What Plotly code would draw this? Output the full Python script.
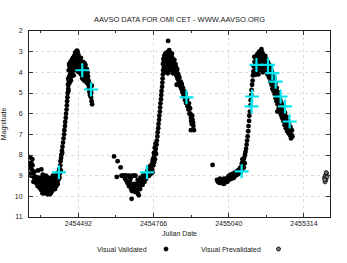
import plotly.graph_objects as go

# ---------------- data ----------------
vis_jd = [
    # cycle 1 - left edge
    2454316, 2454318, 2454315, 2454321, 2454317, 2454322, 2454325, 2454320, 2454327, 2454314, 2454330,
    2454328, 2454332, 2454324,
    # cycle 1 - minimum
    2454336, 2454340, 2454345, 2454348, 2454352, 2454355, 2454358, 2454360, 2454362, 2454365,
    2454366, 2454369, 2454371, 2454372, 2454375, 2454376, 2454378, 2454380, 2454382, 2454384,
    2454386, 2454388, 2454390, 2454392, 2454394, 2454396, 2454398, 2454400, 2454402, 2454404,
    2454406, 2454408, 2454410, 2454412, 2454414, 2454416, 2454418, 2454420, 2454422, 2454424,
    2454426, 2454428, 2454345, 2454357, 2454362, 2454373,
    2454338, 2454343, 2454347, 2454351, 2454354, 2454357, 2454361, 2454364, 2454368, 2454370,
    2454374, 2454377, 2454379, 2454381, 2454383, 2454385, 2454387, 2454389, 2454391, 2454393,
    2454395, 2454397, 2454399, 2454401, 2454403, 2454405, 2454407, 2454409, 2454411, 2454413,
    2454415, 2454417, 2454419, 2454421, 2454423, 2454425,
    # cycle 1 - rise
    2454427, 2454430, 2454429, 2454432, 2454434, 2454433, 2454436, 2454438, 2454440, 2454441,
    2454443, 2454444, 2454446, 2454447, 2454449, 2454450, 2454451, 2454452, 2454453, 2454455,
    2454456, 2454457, 2454459,
    # cycle 1 - maximum
    2454455, 2454457, 2454458, 2454460, 2454462, 2454463, 2454465, 2454466, 2454468, 2454469,
    2454471, 2454472, 2454474, 2454476, 2454477, 2454479, 2454480, 2454482, 2454483, 2454485,
    2454486, 2454487, 2454488, 2454490, 2454491, 2454493, 2454494, 2454496, 2454497, 2454499,
    2454500, 2454502, 2454503, 2454505, 2454507, 2454508, 2454510, 2454512, 2454513, 2454515,
    2454517, 2454519, 2454520, 2454522, 2454524, 2454526, 2454528, 2454530, 2454532, 2454534,
    2454536, 2454538, 2454540, 2454542, 2454539, 2454541, 2454487, 2454484,
    2454458, 2454461, 2454464, 2454467, 2454470, 2454473, 2454475, 2454478, 2454481, 2454484,
    2454486, 2454489, 2454492, 2454495, 2454498, 2454501, 2454504, 2454506, 2454509, 2454511,
    2454514, 2454516, 2454518, 2454521, 2454523, 2454525, 2454527, 2454529, 2454533, 2454537,
    2454454, 2454456, 2454460, 2454480, 2454489,
    # cycle 2 - minimum
    2454622, 2454635, 2454646, 2454632,
    2454649, 2454654, 2454659, 2454664, 2454668, 2454673, 2454678, 2454662, 2454667, 2454671,
    2454676, 2454681, 2454684, 2454688, 2454693, 2454686, 2454698, 2454702, 2454705, 2454708,
    2454712, 2454711, 2454715, 2454718, 2454720, 2454724, 2454727, 2454729, 2454732, 2454735,
    2454738, 2454741, 2454745, 2454748, 2454751, 2454754, 2454700, 2454696, 2454690,
    2454747, 2454750, 2454753, 2454757, 2454760, 2454762, 2454764, 2454767, 2454770, 2454773,
    2454744, 2454739, 2454733, 2454726, 2454717, 2454709, 2454700, 2454694, 2454679, 2454682,
    # cycle 2 - rise
    2454756, 2454759, 2454761, 2454763, 2454765, 2454766, 2454768, 2454769, 2454771, 2454772,
    2454774, 2454775, 2454777, 2454778, 2454780, 2454781, 2454783, 2454784, 2454786, 2454787,
    2454789, 2454790, 2454791, 2454793, 2454794, 2454795, 2454797, 2454798, 2454799, 2454800,
    # cycle 2 - maximum
    2454800, 2454801, 2454802, 2454804, 2454805, 2454806, 2454808, 2454809, 2454810, 2454812,
    2454813, 2454815, 2454816, 2454817, 2454819, 2454820, 2454821, 2454823, 2454824, 2454825,
    2454827, 2454828, 2454829, 2454831, 2454832, 2454834, 2454835, 2454836, 2454838, 2454840,
    2454841, 2454843, 2454845, 2454847, 2454849, 2454851, 2454853, 2454819,
    2454803, 2454807, 2454811, 2454814, 2454818, 2454822, 2454826, 2454830, 2454833, 2454837,
    2454839, 2454842, 2454844, 2454846, 2454848, 2454850, 2454852, 2454854, 2454856, 2454807,
    2454814, 2454818, 2454826, 2454833,
    # cycle 2 - decline
    2454855, 2454858, 2454860, 2454862, 2454865, 2454867, 2454869, 2454871, 2454873, 2454875,
    2454877, 2454879, 2454881, 2454883, 2454885, 2454888, 2454890, 2454893, 2454895, 2454897,
    2454899, 2454902, 2454905, 2454908, 2454911, 2454913, 2454902, 2454850,
    2454857, 2454861, 2454864, 2454868, 2454872, 2454876, 2454880, 2454884, 2454887, 2454892,
    2454896, 2454900, 2454903, 2454907, 2454910,
    # cycle 3 - minimum
    2454981,
    2454997, 2455003, 2455008, 2455011, 2455015, 2455018, 2455021, 2455024, 2455026, 2455029,
    2455032, 2455035, 2455038, 2455041, 2455044, 2455047, 2455050, 2455053, 2455056, 2455059,
    2455062, 2455065, 2455068, 2455071, 2455074, 2455077, 2455080, 2455083, 2455086, 2455089,
    2455000, 2455006, 2455013, 2455019, 2455023, 2455030, 2455036, 2455042, 2455048, 2455054,
    2455060, 2455066, 2455072, 2455078, 2455084, 2455088, 2455090,
    # cycle 3 - rise
    2455091, 2455093, 2455095, 2455096, 2455098, 2455099, 2455101, 2455103, 2455105, 2455107,
    2455109, 2455111, 2455112, 2455114, 2455115, 2455117, 2455119, 2455120, 2455122, 2455123,
    2455125, 2455127, 2455128, 2455130,
    # cycle 3 - maximum
    2455131, 2455132, 2455134, 2455135, 2455137, 2455138, 2455139, 2455141, 2455142, 2455144,
    2455145, 2455147, 2455148, 2455150, 2455151, 2455153, 2455154, 2455156, 2455157, 2455159,
    2455160, 2455161, 2455163, 2455164, 2455166, 2455167, 2455169, 2455170, 2455172, 2455174,
    2455176, 2455178, 2455180,
    2455133, 2455136, 2455140, 2455143, 2455146, 2455149, 2455152, 2455155, 2455158, 2455162,
    2455165, 2455168, 2455171, 2455173, 2455175, 2455177, 2455179, 2455181, 2455184, 2455186,
    2455155, 2455162,
    # cycle 3 - decline
    2455182, 2455185, 2455188, 2455190, 2455193, 2455195, 2455197, 2455200, 2455202, 2455204,
    2455206, 2455208, 2455210, 2455213, 2455215, 2455217, 2455219, 2455221, 2455223, 2455225,
    2455227, 2455229, 2455231, 2455233, 2455236, 2455238, 2455240, 2455242, 2455245, 2455247,
    2455250, 2455252, 2455255, 2455257, 2455260, 2455262, 2455265, 2455268, 2455270, 2455272,
    2455217,
    2455187, 2455192, 2455196, 2455199, 2455203, 2455207, 2455211, 2455214, 2455218, 2455222,
    2455226, 2455230, 2455234, 2455239, 2455243, 2455248, 2455253, 2455258, 2455263, 2455267,
    2455184, 2455198, 2455205,
]
vis_mag = [
    # cycle 1 - left edge
    8.1, 8.5, 8.6, 8.4, 8.9, 8.7, 8.5, 9.0, 8.9, 8.4, 9.1,
    9.3, 8.8, 8.2,
    # cycle 1 - minimum
    9.05, 9.2, 9.1, 9.3, 9.2, 9.45, 9.3, 9.55, 9.15, 9.4,
    9.6, 9.3, 9.7, 9.5, 9.2, 9.45, 9.75, 9.6, 9.35, 9.8,
    9.5, 9.9, 9.65, 9.3, 9.5, 9.75, 9.2, 9.45, 9.6, 9.1,
    9.35, 9.0, 9.25, 9.5, 8.95, 9.15, 8.85, 9.05, 8.7, 8.9,
    8.5, 8.75, 8.75, 8.7, 8.95, 9.0,
    9.35, 9.5, 9.4, 9.6, 9.1, 9.7, 9.85, 9.25, 9.85, 9.1,
    9.6, 9.05, 9.9, 9.15, 9.55, 9.25, 9.7, 9.45, 9.85, 9.1,
    9.35, 9.55, 9.0, 9.3, 9.45, 9.2, 9.65, 9.4, 9.1, 9.3,
    9.05, 9.4, 9.2, 8.95, 9.1, 8.7,
    # cycle 1 - rise
    8.3, 8.0, 8.15, 7.8, 7.6, 7.9, 7.4, 7.2, 7.0, 6.8,
    6.6, 6.4, 6.2, 6.0, 5.8, 5.6, 5.4, 5.2, 5.0, 4.8,
    4.6, 4.4, 4.2,
    # cycle 1 - maximum
    4.3, 3.9, 4.5, 3.7, 4.1, 3.5, 4.4, 3.8, 3.4, 4.0,
    3.6, 3.3, 3.9, 3.5, 3.2, 3.75, 3.4, 3.1, 3.6, 3.3,
    3.0, 3.85, 3.5, 3.2, 3.7, 3.4, 4.0, 3.6, 3.3, 3.85,
    3.55, 4.1, 3.7, 3.95, 3.6, 4.2, 3.8, 4.05, 4.4, 3.75,
    4.15, 4.3, 3.9, 4.5, 4.1, 4.35, 4.6, 4.8, 4.95, 5.1,
    4.7, 5.2, 5.4, 5.55, 5.0, 4.65, 2.95, 3.0,
    3.6, 4.3, 3.95, 4.2, 3.75, 3.55, 4.15, 3.45, 3.85, 3.25,
    3.55, 3.95, 3.15, 3.8, 3.45, 3.3, 3.85, 4.3, 3.5, 4.3,
    3.55, 3.95, 3.65, 4.15, 3.85, 4.0, 4.2, 4.4, 4.55, 4.9,
    4.6, 4.9, 4.5, 3.05, 3.0,
    # cycle 2 - minimum
    8.07, 8.3, 8.6, 9.06,
    9.0, 9.0, 9.0, 9.0, 9.0, 9.02, 9.0, 9.15, 9.25, 9.35,
    9.5, 9.45, 9.65, 9.75, 9.6, 10.12, 9.55, 9.4, 9.7, 9.2,
    9.95, 9.5, 9.3, 9.1, 9.45, 9.25, 9.0, 9.2, 9.1, 8.95,
    9.05, 8.9, 8.95, 8.8, 8.85, 8.7, 9.0, 9.0, 9.0,
    8.6, 9.0, 8.55, 8.9, 8.5, 8.85, 8.2, 7.9, 7.65, 7.45,
    8.75, 9.15, 9.3, 9.45, 9.65, 9.85, 9.8, 9.4, 9.3, 9.15,
    # cycle 2 - rise
    8.6, 8.45, 8.7, 8.3, 8.5, 8.15, 8.35, 8.0, 8.2, 7.85,
    7.7, 7.95, 7.5, 7.3, 7.1, 6.9, 6.7, 6.5, 6.3, 6.1,
    5.9, 5.7, 5.5, 5.3, 5.1, 4.9, 4.7, 4.5, 4.3, 4.1,
    # cycle 2 - maximum
    3.6, 3.9, 3.35, 3.75, 3.2, 4.0, 3.5, 3.1, 3.85, 3.3,
    3.05, 3.65, 3.95, 3.2, 3.0, 3.45, 3.8, 2.93, 3.2, 3.6,
    3.05, 3.4, 3.85, 3.15, 3.5, 3.3, 3.75, 4.05, 3.45, 3.65,
    3.95, 3.6, 3.8, 4.1, 3.9, 4.2, 4.05, 2.48,
    3.5, 3.7, 3.6, 3.4, 3.55, 3.25, 3.35, 3.6, 3.9, 3.6,
    3.85, 3.4, 4.0, 3.6, 3.75, 4.0, 3.85, 4.3, 4.1, 3.3,
    3.8, 4.05, 3.9, 3.1,
    # cycle 2 - decline
    4.35, 4.5, 4.25, 4.65, 4.45, 4.8, 4.6, 4.95, 4.75, 5.1,
    4.9, 5.2, 5.35, 5.05, 5.5, 5.3, 5.65, 5.8, 5.5, 6.0,
    5.75, 6.2, 6.5, 6.3, 6.6, 6.8, 6.8, 4.6,
    4.25, 4.45, 4.7, 4.55, 4.85, 5.0, 5.05, 5.3, 5.45, 5.55,
    5.7, 6.0, 6.35, 6.1, 6.45,
    # cycle 3 - minimum
    8.48,
    9.2, 9.25, 9.15, 9.35, 9.3, 9.2, 9.4, 9.38, 9.25, 9.3,
    9.15, 9.3, 9.05, 9.2, 9.1, 8.95, 9.15, 9.05, 8.9, 9.1,
    8.85, 9.0, 8.8, 8.95, 8.75, 8.9, 8.65, 8.85, 8.55, 8.7,
    9.3, 9.35, 9.2, 9.3, 9.15, 9.2, 9.2, 9.0, 9.05, 8.95,
    8.95, 8.85, 8.85, 8.75, 8.7, 8.4, 8.2,
    # cycle 3 - rise
    8.5, 8.3, 8.6, 8.15, 8.4, 8.0, 7.85, 7.7, 7.5, 7.3,
    7.1, 6.85, 6.6, 6.35, 6.1, 5.9, 5.6, 5.35, 5.1, 4.85,
    4.6, 4.4, 4.15, 3.95,
    # cycle 3 - maximum
    3.7, 4.0, 3.5, 3.85, 3.3, 4.1, 3.6, 3.2, 3.9, 3.4,
    3.1, 3.7, 4.1, 3.25, 3.0, 3.5, 3.85, 3.15, 2.95, 2.88,
    3.4, 3.7, 3.1, 4.0, 3.3, 3.55, 3.2, 3.85, 3.45, 3.7,
    3.35, 3.95, 3.6,
    3.25, 4.1, 3.45, 3.65, 3.45, 3.9, 3.7, 3.35, 3.6, 3.9,
    3.75, 3.95, 3.6, 3.2, 3.85, 3.5, 3.8, 4.1, 3.7, 4.0,
    3.05, 3.05,
    # cycle 3 - decline
    3.5, 3.85, 3.65, 4.1, 3.8, 4.3, 3.95, 4.5, 4.2, 4.65,
    4.35, 4.85, 4.55, 5.0, 4.75, 5.2, 4.95, 5.4, 5.1, 5.6,
    5.3, 5.75, 5.45, 5.9, 5.6, 6.05, 5.8, 6.2, 5.95, 6.4,
    6.15, 6.55, 6.35, 6.7, 6.5, 6.85, 6.65, 7.0, 6.8, 7.1,
    5.9,
    4.25, 4.45, 4.6, 4.8, 4.9, 5.05, 5.25, 5.4, 5.55, 5.75,
    5.9, 6.05, 6.2, 6.35, 6.55, 6.7, 6.85, 6.95, 7.05, 7.2,
    3.55, 4.05, 4.25,
]

pre_jd = [2455389, 2455392, 2455394, 2455396, 2455391, 2455398, 2455395, 2455390]
pre_mag = [9.1, 9.0, 9.2, 8.9, 9.3, 9.05, 8.85, 9.2]

cyan_jd = [2454421, 2454506, 2454538, 2454742, 2454886, 2455087, 2455123, 2455125,
           2455141, 2455183, 2455199, 2455211, 2455229, 2455245, 2455262]
cyan_mag = [8.84, 3.9, 4.83, 8.84, 5.21, 8.79, 5.65, 5.17,
            3.64, 3.64, 4.04, 4.45, 5.17, 5.65, 6.38]

x_major = [2454492, 2454766, 2455040, 2455314]
x_minor = [2454355, 2454629, 2454903, 2455177]
y_ticks = [2, 3, 4, 5, 6, 7, 8, 9, 10, 11]

title_text = "AAVSO DATA FOR OMI CET - WWW.AAVSO.ORG"
legend_labels = ["Visual Validated", "Visual Prevalidated"]

# ---------------- figure ----------------
FONT = "Liberation Sans, Arial, sans-serif"
W, H = 347, 263
ML, MR, MT, MB = 29, 17, 31, 46
PW, PH = W - ML - MR, H - MT - MB

fig = go.Figure()
fig.add_trace(go.Scatter(x=vis_jd, y=vis_mag, mode="markers", name=legend_labels[0],
                         marker=dict(color="#000000", size=4.8, line=dict(width=0)),
                         showlegend=False))
fig.add_trace(go.Scatter(x=pre_jd, y=pre_mag, mode="markers", name=legend_labels[1],
                         marker=dict(color="#777777", size=4, line=dict(color="#000000", width=0.8)),
                         showlegend=False))
fig.add_trace(go.Scatter(x=cyan_jd, y=cyan_mag, mode="markers", name="",
                         marker=dict(symbol="cross-thin", size=10,
                                     line=dict(color="#00e6f0", width=2.2)),
                         showlegend=False))

axis_common = dict(
    showline=True, linecolor="#222222", linewidth=1, mirror="ticks",
    ticks="inside", tickcolor="#333333", tickwidth=1,
    showgrid=True, gridcolor="#dcdcdc", griddash="dot", gridwidth=1,
    zeroline=False, automargin=False,
    tickfont=dict(family=FONT, size=7, color="#222222"),
)

fig.update_layout(
    width=W, height=H,
    margin=dict(l=ML, r=MR, t=MT, b=MB, pad=0),
    paper_bgcolor="white", plot_bgcolor="white",
    template="none",
    font=dict(family=FONT, size=7, color="#222222"),
    title=dict(text=title_text, x=(ML + PW / 2) / W, xanchor="center",
               y=1 - 19 / H, yanchor="middle", yref="container",
               font=dict(family=FONT, size=7.5, color="#222222")),
    xaxis=dict(axis_common, range=[2454312, 2455409], tickmode="array",
               tickvals=x_major, tickformat="d", ticklen=4,
               minor=dict(tickmode="array", tickvals=x_minor, ticks="inside",
                          ticklen=2, tickcolor="#333333", showgrid=False),
               title=dict(text="Julian Date", standoff=4,
                          font=dict(family=FONT, size=7, color="#222222"))),
    yaxis=dict(axis_common, range=[11, 2], tickmode="array", tickvals=y_ticks,
               ticklen=4, ticklabelstandoff=4,
               title=dict(text="Magnitude", standoff=8,
                          font=dict(family=FONT, size=7, color="#222222"))),
)

# legend drawn gnuplot-style (text then marker)
leg_y = ((MT + PH) - 249) / PH
fig.add_annotation(text=legend_labels[0], xref="paper", yref="paper",
                   x=(149 - ML) / PW, y=leg_y, xanchor="right", yanchor="middle",
                   showarrow=False, font=dict(family=FONT, size=7, color="#222222"))
fig.add_annotation(text=legend_labels[1], xref="paper", yref="paper",
                   x=(263 - ML) / PW, y=leg_y, xanchor="right", yanchor="middle",
                   showarrow=False, font=dict(family=FONT, size=7, color="#222222"))
for mx, fill in [((166 - ML) / PW, "#000000"), ((278.5 - ML) / PW, "#777777")]:
    fig.add_shape(type="circle", xref="paper", yref="paper",
                  xsizemode="pixel", ysizemode="pixel",
                  xanchor=mx, yanchor=leg_y, x0=-2, x1=2, y0=-2, y1=2,
                  fillcolor=fill, line=dict(color="#000000", width=0.8))

fig.write_html("out.html", config={"displayModeBar": False},
               post_script="document.body.style.margin='0';document.body.style.overflow='hidden';")
